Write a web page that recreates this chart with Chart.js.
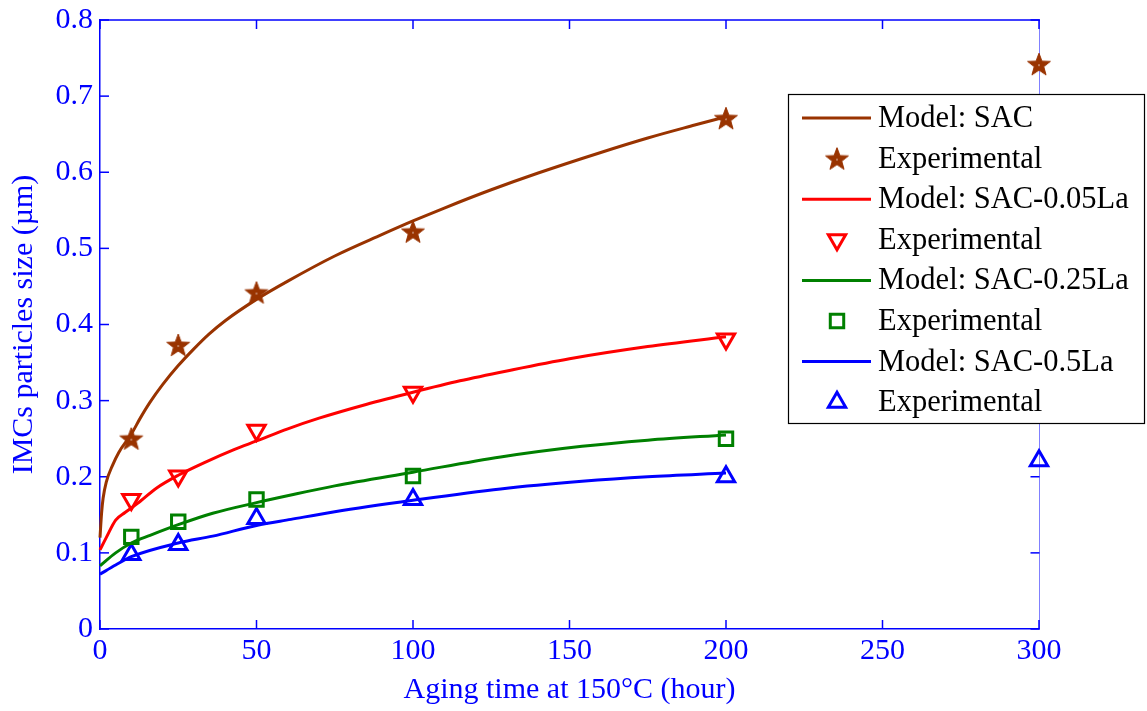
<!DOCTYPE html>
<html>
<head>
<meta charset="utf-8">
<script src="https://cdn.jsdelivr.net/npm/chart.js@4"></script>
<style>
  html, body { margin: 0; padding: 0; background: #ffffff; }
  #wrap { width: 1147px; height: 711px; position: relative; }
</style>
</head>
<body>
<div id="wrap"><canvas id="c" width="1147" height="711"></canvas></div>
<script>
// ---------- data ----------
const sacModelT   = [0, 0.5, 1, 2, 4, 6, 10, 13, 16, 20, 25, 30, 35, 40, 50, 60, 75, 90, 100, 110, 125, 140, 160, 175, 190, 200];
const sacModelY   = [0.12, 0.152, 0.172, 0.193, 0.215, 0.232, 0.256, 0.278, 0.298, 0.321, 0.346, 0.368, 0.388, 0.405, 0.433, 0.457, 0.49, 0.518, 0.536, 0.553, 0.577, 0.599, 0.626, 0.645, 0.662, 0.673];

const la005ModelT = [0, 2, 5, 8, 12, 18, 25, 33, 43, 50, 60, 70, 85, 100, 115, 130, 150, 175, 200];
const la005ModelY = [0.104, 0.12, 0.143, 0.153, 0.165, 0.185, 0.202, 0.218, 0.236, 0.247, 0.263, 0.277, 0.295, 0.311, 0.326, 0.339, 0.355, 0.371, 0.384];

const la025ModelT = [0, 5, 10, 16, 25, 36, 50, 61, 75, 100, 128, 154, 175, 200];
const la025ModelY = [0.083, 0.1, 0.113, 0.123, 0.137, 0.152, 0.166, 0.176, 0.188, 0.206, 0.226, 0.240, 0.248, 0.255];

const la05ModelT  = [0, 5, 10, 25, 36, 50, 61, 75, 100, 128, 154, 175, 200];
const la05ModelY  = [0.072, 0.084, 0.095, 0.113, 0.122, 0.136, 0.144, 0.154, 0.169, 0.184, 0.194, 0.2, 0.205];

const sacExpT   = [10, 25, 50, 100, 200, 300];
const sacExpY   = [0.25, 0.373, 0.442, 0.522, 0.671, 0.742];
const la005ExpT = [10, 25, 50, 100, 200];
const la005ExpY = [0.170, 0.201, 0.261, 0.311, 0.381];
const la025ExpT = [10, 25, 50, 100, 200];
const la025ExpY = [0.121, 0.141, 0.170, 0.201, 0.250];
const la05ExpT  = [10, 25, 50, 100, 200, 300];
const la05ExpY  = [0.098, 0.111, 0.145, 0.170, 0.200, 0.221];

const seriesLabels = ['Model: SAC', 'Experimental', 'Model: SAC-0.05La', 'Experimental',
                      'Model: SAC-0.25La', 'Experimental', 'Model: SAC-0.5La', 'Experimental'];
const xTickLabels = ['0', '50', '100', '150', '200', '250', '300'];
const yTickLabels = ['0', '0.1', '0.2', '0.3', '0.4', '0.5', '0.6', '0.7', '0.8'];
const xTitle = 'Aging time at 150\u00B0C (hour)';
const yTitle = 'IMCs particles size (\u00B5m)';

// ---------- styling ----------
const BROWN = 'rgb(153,51,0)', RED = '#ff0000', GREEN = '#008000', BLUE = '#0000ff';
const FONT = '"Liberation Serif", "Times New Roman", serif';

function pts(ts, ys) { return ts.map((t, i) => ({ x: t, y: ys[i] })); }

function makeStar(color) {
  const c = document.createElement('canvas');
  c.width = 28; c.height = 28;
  const g = c.getContext('2d');
  g.beginPath();
  for (let i = 0; i < 10; i++) {
    const r = i % 2 === 0 ? 12 : 5.0;
    const a = -Math.PI / 2 + i * Math.PI / 5;
    g.lineTo(14 + r * Math.cos(a), 15 + r * Math.sin(a));
  }
  g.closePath();
  g.fillStyle = color; g.fill();
  g.strokeStyle = color; g.lineWidth = 1; g.stroke();
  g.fillStyle = '#ffffff';
  g.fillRect(13.4, 14.4, 1.2, 1.2);
  return c;
}
const starImg = makeStar(BROWN);

function modelDs(label, ts, ys, color) {
  return { label, data: pts(ts, ys), showLine: true, borderColor: color, borderWidth: 3,
           pointRadius: 0, pointHoverRadius: 0, cubicInterpolationMode: 'monotone', clip: false, fill: false };
}
function expDs(label, ts, ys, color, style, radius, rotation) {
  return { label, data: pts(ts, ys), showLine: false, borderColor: color, backgroundColor: 'rgba(0,0,0,0)',
           pointStyle: style, pointRadius: radius, pointRotation: rotation || 0, pointBorderWidth: 3,
           pointBorderColor: color, pointBackgroundColor: 'rgba(0,0,0,0)', clip: false };
}

const datasets = [
  modelDs(seriesLabels[0], sacModelT, sacModelY, BROWN),
  expDs(seriesLabels[1], sacExpT, sacExpY, BROWN, starImg, 12, 0),
  modelDs(seriesLabels[2], la005ModelT, la005ModelY, RED),
  expDs(seriesLabels[3], la005ExpT, la005ExpY, RED, 'triangle', 10, 180),
  modelDs(seriesLabels[4], la025ModelT, la025ModelY, GREEN),
  expDs(seriesLabels[5], la025ExpT, la025ExpY, GREEN, 'rect', 9.5, 0),
  modelDs(seriesLabels[6], la05ModelT, la05ModelY, BLUE),
  expDs(seriesLabels[7], la05ExpT, la05ExpY, BLUE, 'triangle', 10, 0)
];

// ---------- plugins ----------
function seg(ctx, x1, y1, x2, y2) { ctx.beginPath(); ctx.moveTo(x1, y1); ctx.lineTo(x2, y2); ctx.stroke(); }

const boxAxes = {
  id: 'boxAxes',
  beforeDatasetsDraw(chart) {
    const { ctx, chartArea: { left, right, top, bottom }, scales: { x, y } } = chart;
    ctx.save();
    ctx.strokeStyle = '#8080ff'; ctx.lineWidth = 1;
    seg(ctx, right + 0.5, top, right + 0.5, bottom);
    ctx.strokeStyle = BLUE; ctx.lineWidth = 1.5;
    seg(ctx, left, top, right + 1, top);
    const TL = 9;
    x.ticks.forEach(t => {
      const px = x.getPixelForValue(t.value);
      seg(ctx, px, bottom, px, bottom - TL);
      seg(ctx, px, top, px, top + TL);
    });
    y.ticks.forEach(t => {
      const py = y.getPixelForValue(t.value);
      seg(ctx, left, py, left + TL, py);
      seg(ctx, right + 0.5, py, right + 0.5 - TL, py);
    });
    ctx.restore();
  }
};

const boxLegend = {
  id: 'boxLegend',
  afterDraw(chart) {
    const ctx = chart.ctx;
    const bx = 788, by = 94, bw = 357, bh = 330;
    ctx.save();
    ctx.fillStyle = '#ffffff';
    ctx.fillRect(bx, by, bw, bh);
    ctx.strokeStyle = '#000000'; ctx.lineWidth = 1.2;
    ctx.strokeRect(bx + 0.5, by + 0.5, bw - 1, bh - 1);
    ctx.font = '30.5px ' + FONT;
    ctx.textBaseline = 'middle';
    ctx.textAlign = 'left';
    chart.data.datasets.forEach((ds, i) => {
      const yy = 118 + i * 40.6;
      if (ds.showLine) {
        ctx.strokeStyle = ds.borderColor; ctx.lineWidth = 3;
        seg(ctx, 802, yy, 871, yy);
      } else {
        ctx.strokeStyle = ds.pointBorderColor; ctx.fillStyle = 'rgba(0,0,0,0)';
        ctx.lineWidth = ds.pointBorderWidth;
        const opts = { pointStyle: ds.pointStyle, rotation: ds.pointRotation, radius: ds.pointRadius, borderWidth: ds.pointBorderWidth };
        if (Chart.helpers && Chart.helpers.drawPoint) {
          Chart.helpers.drawPoint(ctx, opts, 837, yy);
        }
      }
      ctx.fillStyle = '#000000';
      ctx.fillText(ds.label, 878, yy + 1);
    });
    ctx.restore();
  }
};

// ---------- chart ----------
new Chart(document.getElementById('c'), {
  type: 'scatter',
  data: { datasets },
  plugins: [boxAxes, boxLegend],
  options: {
    responsive: false,
    animation: false,
    devicePixelRatio: 1,
    layout: { padding: { top: 20, right: 108, left: 0, bottom: 0 } },
    plugins: { legend: { display: false }, tooltip: { enabled: false } },
    scales: {
      x: {
        type: 'linear', min: 0, max: 300,
        afterFit(s) { s.height = 82; },
        afterBuildTicks(s) { s.ticks = xTickLabels.map(v => ({ value: Number(v) })); },
        ticks: { color: BLUE, font: { family: FONT, size: 30, lineHeight: 1.2 }, padding: 4,
                 maxRotation: 0, autoSkip: false,
                 callback: (v) => xTickLabels[xTickLabels.indexOf(String(v))] ?? '' },
        grid: { drawOnChartArea: false, drawTicks: false },
        border: { display: true, color: BLUE, width: 1.5 },
        title: { display: true, text: xTitle, color: BLUE, font: { family: FONT, size: 30, lineHeight: 1.2 },
                 padding: { top: 0, bottom: 3 } }
      },
      y: {
        type: 'linear', min: 0, max: 0.8,
        afterFit(s) { s.width = 100; },
        afterBuildTicks(s) { s.ticks = yTickLabels.map(v => ({ value: Number(v) })); },
        ticks: { color: BLUE, font: { family: FONT, size: 30, lineHeight: 0.8 }, padding: 7, autoSkip: false,
                 callback: (v) => { const i = yTickLabels.findIndex(l => Math.abs(Number(l) - v) < 1e-9); return i >= 0 ? yTickLabels[i] : ''; } },
        grid: { drawOnChartArea: false, drawTicks: false },
        border: { display: true, color: BLUE, width: 1.5 },
        title: { display: true, text: yTitle, color: BLUE, font: { family: FONT, size: 30, lineHeight: 1.2 },
                 padding: { top: 6, bottom: 0 } }
      }
    }
  }
});
</script>
</body>
</html>
